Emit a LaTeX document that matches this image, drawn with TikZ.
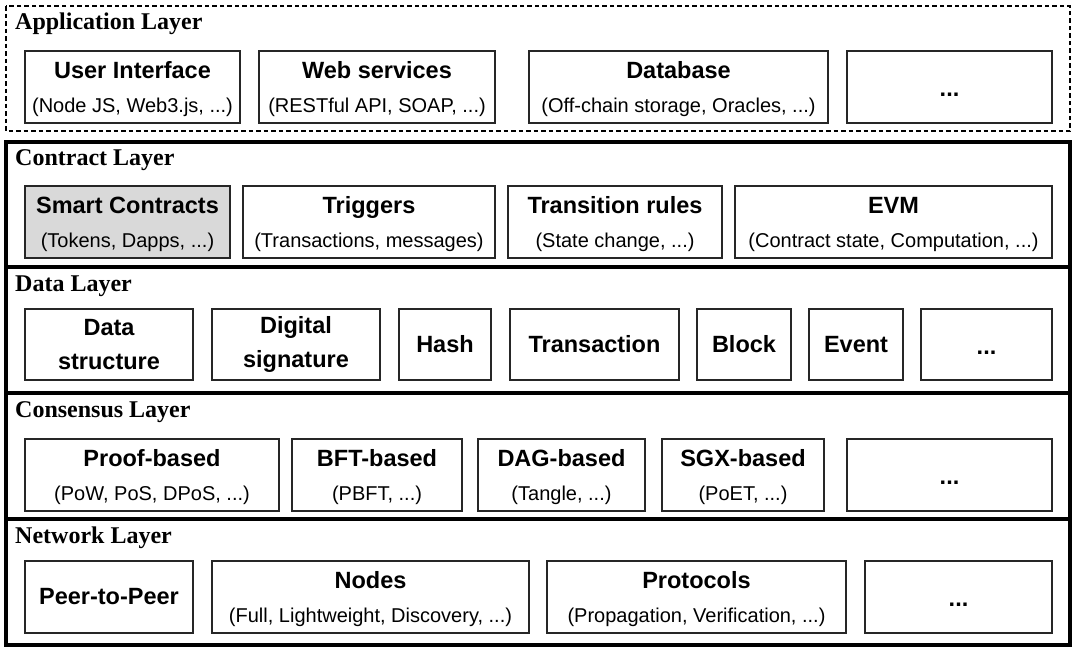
\documentclass[tikz,border=0pt]{standalone}
\usepackage{fontspec}
\setmainfont{Liberation Serif}
\setsansfont{Liberation Sans}
\usepackage{tikz}
\usetikzlibrary{calc,positioning}
\tikzstyle{LayerFrame} = [draw=black, line width=3.6pt]
\tikzstyle{AppFrame} = [draw=black, line width=2.4pt, dash pattern=on 4.5pt off 3pt]
\tikzstyle{ItemBox} = [draw=black!85, line width=1.4pt, fill=white]
\tikzstyle{GreyBox} = [draw=black!85, line width=1.4pt, fill=black!15]
\tikzstyle{LayerTitle} = [anchor=base west, inner sep=0pt,
    font=\rmfamily\bfseries\fontsize{24}{28}\selectfont]
\tikzstyle{ItemText} = [align=center, inner sep=0pt,
    font=\sffamily\bfseries\fontsize{23.5}{34}\selectfont]
\tikzstyle{SubItemText} = [ItemText, yshift=-2.5pt]

\begin{document}
\begin{tikzpicture}[x=1pt, y=-1pt]
        \useasboundingbox (0,0) rectangle (1075,648);
        %layer frames
        \draw [AppFrame] (6,6) rectangle (1070,131);
        \draw [LayerFrame] (6,142) rectangle (1070,267);
        \draw [LayerFrame] (6,267) rectangle (1070,393);
        \draw [LayerFrame] (6,393) rectangle (1070,519);
        \draw [LayerFrame] (6,519) rectangle (1070,645);
        \node [LayerTitle] (AppTitle) at (15,29) {Application Layer};
        \node [LayerTitle] (ContractTitle) at (15,165) {Contract Layer};
        \node [LayerTitle] (DataTitle) at (15,291) {Data Layer};
        \node [LayerTitle] (ConsensusTitle) at (15,417) {Consensus Layer};
        \node [LayerTitle] (NetworkTitle) at (15,543) {Network Layer};
        %application layer
        \draw [ItemBox] (25,51) rectangle (240,123) node[SubItemText, pos=0.5] (UserInterface) {User Interface\\
            {\mdseries\fontsize{20}{34}\selectfont (Node JS, Web3.js, ...)}}; %user interface
        \draw [ItemBox] (259,51) rectangle (495,123) node[SubItemText, pos=0.5] (WebServices) {Web services\\
            {\mdseries\fontsize{20}{34}\selectfont (RESTful API, SOAP, ...)}}; %web services
        \draw [ItemBox] (529,51) rectangle (828,123) node[SubItemText, pos=0.5] (Database) {Database\\
            {\mdseries\fontsize{20}{34}\selectfont (Off-chain storage, Oracles, ...)}}; %database
        \draw [ItemBox] (847,51) rectangle (1052,123) node[ItemText, pos=0.5, yshift=-8pt] (AppMore) {...}; %more
        %contract layer
        \draw [GreyBox] (25,186) rectangle (230,258) node[SubItemText, pos=0.5] (SmartContracts) {Smart Contracts\\
            {\mdseries\fontsize{20}{34}\selectfont (Tokens, Dapps, ...)}}; %smart contracts
        \draw [ItemBox] (243,186) rectangle (495,258) node[SubItemText, pos=0.5] (Triggers) {Triggers\\
            {\mdseries\fontsize{20}{34}\selectfont (Transactions, messages)}}; %triggers
        \draw [ItemBox] (508,186) rectangle (722,258) node[SubItemText, pos=0.5] (TransitionRules) {Transition rules\\
            {\mdseries\fontsize{20}{34}\selectfont (State change, ...)}}; %transition rules
        \draw [ItemBox] (735,186) rectangle (1052,258) node[SubItemText, pos=0.5] (EVM) {EVM\\
            {\mdseries\fontsize{20}{34}\selectfont (Contract state, Computation, ...)}}; %evm
        %data layer
        \draw [ItemBox] (25,309) rectangle (193,380) node[ItemText, pos=0.5] (DataStructure) {Data\\ structure}; %data structure
        \draw [ItemBox] (212,309) rectangle (380,380) node[ItemText, pos=0.5] (DigitalSignature) {Digital\\ signature}; %digital signature
        \draw [ItemBox] (399,309) rectangle (491,380) node[ItemText, pos=0.5] (Hash) {Hash}; %hash
        \draw [ItemBox] (510,309) rectangle (679,380) node[ItemText, pos=0.5] (Transaction) {Transaction}; %transaction
        \draw [ItemBox] (697,309) rectangle (791,380) node[ItemText, pos=0.5] (Block) {Block}; %block
        \draw [ItemBox] (809,309) rectangle (903,380) node[ItemText, pos=0.5] (Event) {Event}; %event
        \draw [ItemBox] (921,309) rectangle (1052,380) node[ItemText, pos=0.5, yshift=-8pt] (DataMore) {...}; %more
        %consensus layer
        \draw [ItemBox] (25,439) rectangle (279,511) node[SubItemText, pos=0.5] (ProofBased) {Proof-based\\
            {\mdseries\fontsize{20}{34}\selectfont (PoW, PoS, DPoS, ...)}}; %proof based
        \draw [ItemBox] (292,439) rectangle (462,511) node[SubItemText, pos=0.5] (BFTBased) {BFT-based\\
            {\mdseries\fontsize{20}{34}\selectfont (PBFT, ...)}}; %bft based
        \draw [ItemBox] (478,439) rectangle (645,511) node[SubItemText, pos=0.5] (DAGBased) {DAG-based\\
            {\mdseries\fontsize{20}{34}\selectfont (Tangle, ...)}}; %dag based
        \draw [ItemBox] (662,439) rectangle (824,511) node[SubItemText, pos=0.5] (SGXBased) {SGX-based\\
            {\mdseries\fontsize{20}{34}\selectfont (PoET, ...)}}; %sgx based
        \draw [ItemBox] (847,439) rectangle (1052,511) node[ItemText, pos=0.5, yshift=-8pt] (ConsensusMore) {...}; %more
        %network layer
        \draw [ItemBox] (25,561) rectangle (193,633) node[ItemText, pos=0.5] (PeerToPeer) {Peer-to-Peer}; %p2p
        \draw [ItemBox] (212,561) rectangle (529,633) node[SubItemText, pos=0.5] (Nodes) {Nodes\\
            {\mdseries\fontsize{20}{34}\selectfont (Full, Lightweight, Discovery, ...)}}; %nodes
        \draw [ItemBox] (547,561) rectangle (846,633) node[SubItemText, pos=0.5] (Protocols) {Protocols\\
            {\mdseries\fontsize{20}{34}\selectfont (Propagation, Verification, ...)}}; %protocols
        \draw [ItemBox] (865,561) rectangle (1052,633) node[ItemText, pos=0.5, yshift=-8pt] (NetworkMore) {...}; %more
    \end{tikzpicture}
\end{document}
